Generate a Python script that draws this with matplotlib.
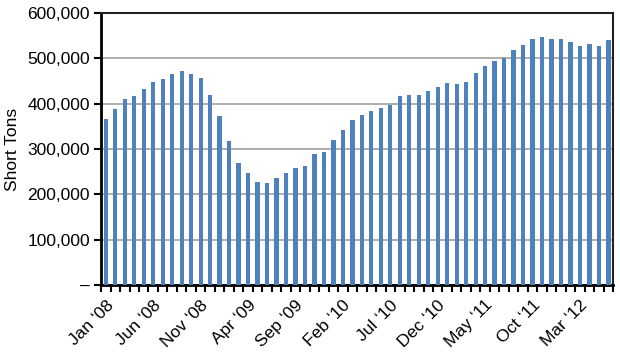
import matplotlib
matplotlib.use("Agg")
import matplotlib.pyplot as plt
from matplotlib.ticker import FuncFormatter, MultipleLocator

months = ["Jan", "Feb", "Mar", "Apr", "May", "Jun",
          "Jul", "Aug", "Sep", "Oct", "Nov", "Dec"]
# Jan '08 .. Jun '12, one bar per month
labels = [f"{months[i % 12]} \u2018{8 + i // 12:02d}" for i in range(54)]
tons = [367000, 389000, 410000, 417000, 433000, 448000, 455000, 465000, 472000,
        465000, 456000, 420000, 373000, 317000, 270000, 247000, 227000, 224000,
        235000, 246000, 257000, 263000, 288000, 293000, 319000, 342000, 364000,
        376000, 383000, 390000, 397000, 416000, 420000, 420000, 428000, 437000,
        445000, 443000, 448000, 468000, 483000, 495000, 501000, 519000, 529000,
        543000, 547000, 542000, 543000, 536000, 527000, 532000, 526000, 541000]

plt.rcParams['font.family'] = ['Liberation Sans', 'DejaVu Sans']

fig = plt.figure(figsize=(6.2, 3.59), dpi=100)
ax = fig.add_axes([0.163, 0.206, 0.826, 0.758])

x = list(range(len(tons)))
ax.bar(x, tons, width=0.45, color="#4f81bd", zorder=3)

ax.set_xlim(-0.5, len(tons) - 0.5)
ax.set_ylim(0, 600000)
ax.yaxis.set_major_locator(MultipleLocator(100000))
ax.yaxis.set_major_formatter(FuncFormatter(lambda v, p: "\u2013" if v == 0 else f"{int(v):,}"))
ax.grid(axis="y", color="#a0a0a0", linewidth=1.2, zorder=0)

ax.set_xticks(x[::5])
ax.set_xticklabels(labels[::5], rotation=45, ha="right", rotation_mode="anchor", fontsize=12.5)
ax.set_xticks([i - 0.5 for i in range(len(tons) + 1)], minor=True)
ax.tick_params(axis="x", which="major", length=0, pad=9)
ax.tick_params(axis="x", which="minor", length=5, width=1.5, direction="out")
ax.tick_params(axis="y", length=5, width=1.5, labelsize=12.5, pad=3)

ax.set_ylabel("Short Tons", fontsize=12.5, labelpad=5)

for side in ["left", "bottom"]:
    ax.spines[side].set_linewidth(2)
for side in ["top", "right"]:
    ax.spines[side].set_linewidth(1.5)
    ax.spines[side].set_color("#222222")

fig.savefig("out.png", dpi=100)
